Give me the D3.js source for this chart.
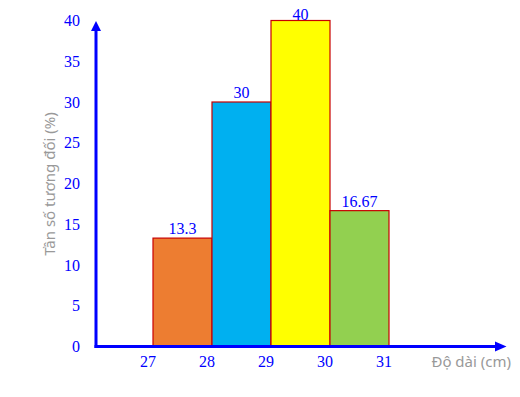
<!DOCTYPE html>
<html lang="vi">
<head>
<meta charset="utf-8">
<title>Tần số tương đối</title>
<script src="https://d3js.org/d3.v7.min.js"></script>
<style>
  body { margin: 0; background: #fff; }
</style>
</head>
<body>
<script>
  // data
  var edges = [27, 28, 29, 30, 31];
  var values = [13.3, 30, 40, 16.67];
  var valueLabels = ["13.3", "30", "40", "16.67"];
  var colors = ["#ED7D31", "#00B0F0", "#FFFF00", "#92D050"];
  var yTicks = [0, 5, 10, 15, 20, 25, 30, 35, 40];

  var width = 520, height = 397;
  var originX = 96, originY = 346.5;

  var svg = d3.select("body").append("svg")
      .attr("width", width)
      .attr("height", height);

  var x = d3.scaleLinear().domain([27, 31]).range([153, 389]);
  var y = d3.scaleLinear().domain([0, 40]).range([originY, 20.5]);

  // bars
  svg.selectAll("rect.bar")
      .data(values)
      .enter().append("rect")
      .attr("class", "bar")
      .attr("x", function (d, i) { return x(edges[i]); })
      .attr("y", function (d) { return y(d); })
      .attr("width", function (d, i) { return x(edges[i + 1]) - x(edges[i]); })
      .attr("height", function (d) { return originY - y(d); })
      .attr("fill", function (d, i) { return colors[i]; })
      .attr("stroke", "#C80000")
      .attr("stroke-width", 1.2);

  // value labels
  svg.selectAll("text.val")
      .data(values)
      .enter().append("text")
      .attr("class", "val")
      .attr("x", function (d, i) { return (x(edges[i]) + x(edges[i + 1])) / 2; })
      .attr("y", function (d) { return Math.max(y(d) - 4, 20); })
      .attr("text-anchor", "middle")
      .attr("font-family", "Liberation Serif, serif")
      .attr("font-size", "16px")
      .attr("fill", "#0000FF")
      .text(function (d, i) { return valueLabels[i]; });

  // y tick labels
  svg.selectAll("text.ytick")
      .data(yTicks)
      .enter().append("text")
      .attr("class", "ytick")
      .attr("x", 80)
      .attr("y", function (d) { return y(d); })
      .attr("dy", "0.35em")
      .attr("text-anchor", "end")
      .attr("font-family", "Liberation Serif, serif")
      .attr("font-size", "16px")
      .attr("fill", "#0000FF")
      .text(function (d) { return d; });

  // x tick labels
  svg.selectAll("text.xtick")
      .data(edges)
      .enter().append("text")
      .attr("class", "xtick")
      .attr("x", function (d) { return x(d) - 5; })
      .attr("y", 367)
      .attr("text-anchor", "middle")
      .attr("font-family", "Liberation Serif, serif")
      .attr("font-size", "16px")
      .attr("fill", "#0000FF")
      .text(function (d) { return d; });

  // axes with arrows
  svg.append("line")
      .attr("x1", originX).attr("y1", originY + 1.5)
      .attr("x2", originX).attr("y2", 30)
      .attr("stroke", "#0000FF").attr("stroke-width", 3);
  svg.append("path")
      .attr("d", "M" + originX + ",21 L" + (originX - 5) + ",31 L" + (originX + 5) + ",31 Z")
      .attr("fill", "#0000FF");

  svg.append("line")
      .attr("x1", originX - 1.5).attr("y1", originY)
      .attr("x2", 496).attr("y2", originY)
      .attr("stroke", "#0000FF").attr("stroke-width", 3);
  svg.append("path")
      .attr("d", "M506.5," + originY + " L495," + (originY - 5) + " L495," + (originY + 5) + " Z")
      .attr("fill", "#0000FF");

  // axis titles
  svg.append("text")
      .attr("transform", "translate(55,184) rotate(-90)")
      .attr("text-anchor", "middle")
      .attr("font-family", "Noto Sans, sans-serif")
      .attr("font-size", "15px")
      .attr("fill", "#999999")
      .text("Tần số tương đối (%)");

  svg.append("text")
      .attr("x", 511)
      .attr("y", 367)
      .attr("text-anchor", "end")
      .attr("font-family", "Noto Sans, sans-serif")
      .attr("font-size", "15px")
      .attr("fill", "#999999")
      .text("Độ dài (cm)");
</script>
</body>
</html>
